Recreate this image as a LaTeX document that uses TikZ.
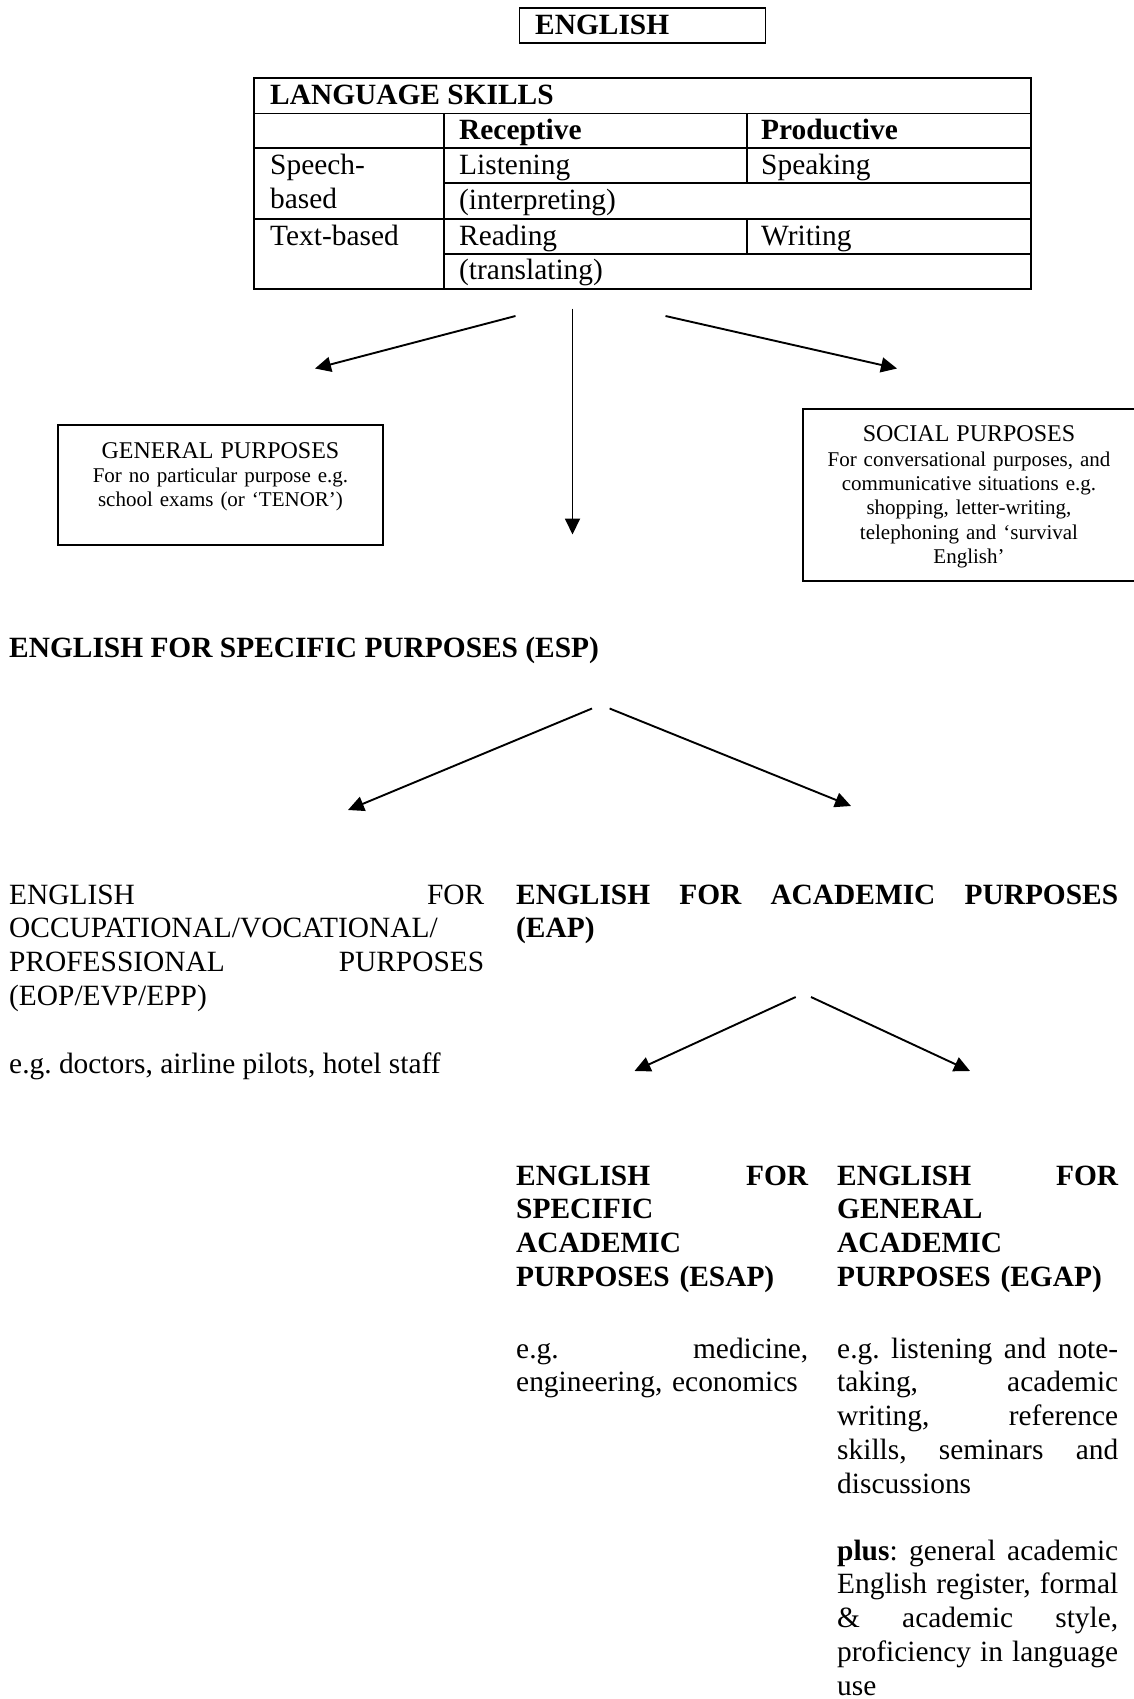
\documentclass[tikz,border=0pt]{standalone}
\usepackage{fontspec}
\setmainfont{Liberation Serif}
\usetikzlibrary{arrows.meta}
\frenchspacing
% a line of justified text: words separated by \hfill, spread to the given width (in pt)
\newcommand\jl[2]{\leavevmode\hbox to #1pt{#2}}
% heading size inside the purpose boxes
\newcommand\boxheadsize{\fontsize{24pt}{24.4pt}\selectfont}
\begin{document}
\begin{tikzpicture}[x=1pt,y=-1pt,
  rule/.style={line width=1.8pt},
  frame/.style={draw, line width=1.8pt, inner sep=0pt},
  body/.style={inner sep=0pt, anchor=base west, font=\fontsize{29.4pt}{33.9pt}\selectfont},
  bodyb/.style={inner sep=0pt, anchor=base west, font=\fontsize{29.4pt}{33.9pt}\selectfont\bfseries},
  col/.style={align=left, text width=#1pt},
  boxtext/.style={inner sep=0pt, anchor=base, align=center, text width=#1pt,
    font=\fontsize{21pt}{24.4pt}\selectfont},
  link/.style={line width=1.9pt, -{Triangle[length=16pt,width=15pt]}}
]
\useasboundingbox (0,0) rectangle (1134,1699);

% ---- title ----
\node[frame, minimum width=246pt, minimum height=34.4pt] (english) at (642.5,25.5) {};
\node[bodyb] (englishtxt) at (535,35) {ENGLISH};

% ---- language skills table ----
\node[frame, minimum width=776.5pt, minimum height=210.5pt] (skills) at (642.55,183.5) {};
\draw[rule] (254.3,113.5) -- (1030.8,113.5);
\draw[rule] (254.3,148) -- (1030.8,148);
\draw[rule] (444,183) -- (1030.8,183);
\draw[rule] (254.3,219) -- (1030.8,219);
\draw[rule] (444,254) -- (1030.8,254);
\draw[rule] (444,113.5) -- (444,288.5);
\draw[rule] (746.6,113.5) -- (746.6,183);
\draw[rule] (746.6,219) -- (746.6,254);

\node[bodyb] (lskills) at (270,105) {LANGUAGE SKILLS};
\node[bodyb] (recep) at (459,140) {Receptive};
\node[bodyb] (produ) at (761,140) {Productive};
\node[body, col=170] (speech) at (270,175) {Speech-\\based};
\node[body] (listen) at (459,175) {Listening};
\node[body] (speak) at (761,175) {Speaking};
\node[body] (interp) at (459,209) {(interpreting)};
\node[body] (textb) at (270,245) {Text-based};
\node[body] (read) at (459,245) {Reading};
\node[body] (write) at (761,245) {Writing};
\node[body] (transl) at (459,279) {(translating)};

% ---- purpose boxes ----
\node[frame, minimum width=324.4pt, minimum height=120pt] (general) at (220.5,485) {};
\node[boxtext=320] (generaltxt) at (220.5,458)
  {{\boxheadsize GENERAL PURPOSES}\\For no particular purpose e.g.\\school exams (or ‘TENOR’)};

\node[frame, minimum width=333.3pt, minimum height=171.4pt] (social) at (969.4,495) {};
\node[boxtext=328] (socialtxt) at (969,441.7)
  {{\boxheadsize SOCIAL PURPOSES}\\For conversational purposes, and\\communicative situations e.g.\\
   shopping, letter-writing,\\telephoning and ‘survival\\English’};

% ---- arrows from the table ----
\coordinate (t1s) at (515.5,316);   \coordinate (t1e) at (315,368.5);
\coordinate (t2s) at (572.5,308.5); \coordinate (t2e) at (572.5,534.5);
\coordinate (t3s) at (665.5,316);   \coordinate (t3e) at (897,368.5);
\draw[link] (t1s) -- (t1e);
\draw[link] (t2s) -- (t2e);
\draw[link] (t3s) -- (t3e);

% ---- ESP ----
\node[bodyb] (esp) at (9,657) {ENGLISH FOR SPECIFIC PURPOSES (ESP)};

\coordinate (e1s) at (592,708.5);   \coordinate (e1e) at (348,810);
\coordinate (e2s) at (609.6,708.5); \coordinate (e2e) at (851,806);
\draw[link] (e1s) -- (e1e);
\draw[link] (e2s) -- (e2e);

\node[body, col=475] (eop) at (9,904)
  {\jl{475}{ENGLISH\hfill FOR}\\OCCUPATIONAL/VOCATIONAL/\\\jl{475}{PROFESSIONAL\hfill PURPOSES}\\(EOP/EVP/EPP)};
\node[body] (eopex) at (9,1073.5) {e.g. doctors, airline pilots, hotel staff};

\node[bodyb, col=602] (eap) at (516,904)
  {\jl{602}{ENGLISH\hfill FOR\hfill ACADEMIC\hfill PURPOSES}\\(EAP)};

\coordinate (a1s) at (795.7,997); \coordinate (a1e) at (634.5,1071);
\coordinate (a2s) at (811,997);   \coordinate (a2e) at (970,1071);
\draw[link] (a1s) -- (a1e);
\draw[link] (a2s) -- (a2e);

% ---- ESAP / EGAP ----
\node[bodyb, col=292] (esap) at (516,1185)
  {\jl{292}{ENGLISH\hfill FOR}\\SPECIFIC\\ACADEMIC\\PURPOSES (ESAP)};
\node[bodyb, col=281] (egap) at (837,1185)
  {\jl{281}{ENGLISH\hfill FOR}\\GENERAL\\ACADEMIC\\PURPOSES (EGAP)};

\node[body, col=292] (esapex) at (516,1358)
  {\jl{292}{e.g.\hfill medicine,}\\engineering, economics};
\node[body, col=281] (egapex) at (837,1358)
  {\jl{281}{e.g.\hfill listening\hfill and\hfill note-}\\\jl{281}{taking,\hfill academic}\\
   \jl{281}{writing,\hfill reference}\\\jl{281}{skills,\hfill seminars\hfill and}\\discussions};
\node[body, col=281] (egapplus) at (837,1560)
  {\jl{281}{\textbf{plus}:\hfill general\hfill academic}\\\jl{281}{English\hfill register,\hfill formal}\\
   \jl{281}{\&\hfill academic\hfill style,}\\\jl{281}{proficiency\hfill in\hfill language}\\use};
\end{tikzpicture}
\end{document}
